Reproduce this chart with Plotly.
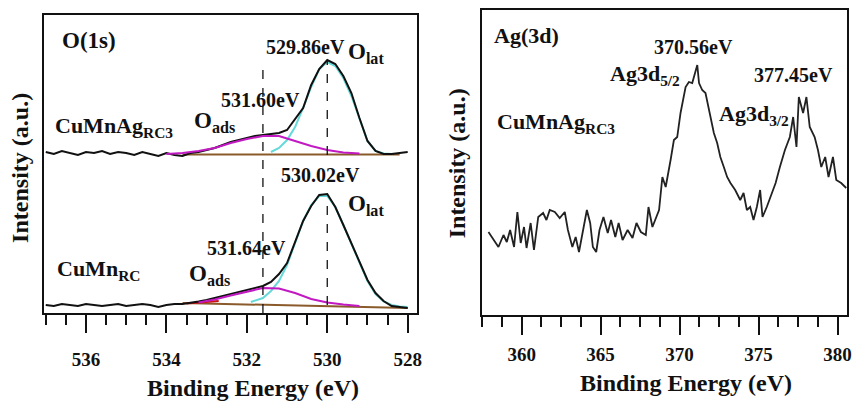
import plotly.graph_objects as go

# ---------------- Left panel: O(1s) ----------------
o_energy = [537.0, 536.8, 536.6, 536.4, 536.2, 536.0, 535.8, 535.6, 535.4, 535.2,
            535.0, 534.8, 534.6, 534.4, 534.2, 534.0, 533.8, 533.6, 533.4, 533.2,
            533.0, 532.8, 532.6, 532.4, 532.2, 532.0, 531.8, 531.6, 531.4, 531.2,
            531.0, 530.8, 530.6, 530.4, 530.2, 530.0, 529.8, 529.6, 529.4, 529.2,
            529.0, 528.8, 528.6, 528.4, 528.2, 528.0]
o_cumnag = [161, 159, 162, 160, 158, 161, 160, 162, 159, 161,
            160, 158, 161, 159, 157, 160, 158, 157, 160, 161,
            163, 165, 168, 171, 173, 175, 177, 178, 179, 180,
            183, 194, 205, 228, 244, 253, 249, 237, 220, 195,
            172, 162, 159, 159, 160, 161]
o_cumn = [8, 7, 9, 8, 7, 9, 8, 7, 8, 9,
          7, 8, 9, 8, 6, 8, 9, 9, 10, 11.5,
          13, 15, 17, 19, 21, 23, 25, 27, 31, 39,
          50, 72, 92, 107, 118, 119, 106, 88, 70, 51,
          33, 20, 12, 7, 6, 5]

# fitted components, CuMnAg_RC3
ads1_e = [534.0, 533.6, 533.2, 532.8, 532.4, 532.0, 531.6, 531.2, 530.8, 530.4, 530.0, 529.6, 529.2]
ads1_y = [159, 160, 162, 165, 170, 174, 177, 177, 172, 167, 163, 160.5, 159.5]
lat1_e = [531.4, 531.2, 531.0, 530.8, 530.6, 530.4, 530.2, 530.0, 529.8, 529.6, 529.4, 529.2,
          529.0, 528.8, 528.6, 528.4]
lat1_y = [161, 165, 173, 186, 205, 226, 244, 251, 247, 235, 217, 194, 172, 162, 159.5, 159]
base1_e = [533.6, 528.2]
base1_y = [158.5, 158.5]

# fitted components, CuMn_RC
ads2_e = [533.2, 532.8, 532.4, 532.0, 531.6, 531.2, 530.8, 530.4, 530.0, 529.6, 529.2]
ads2_y = [10.5, 13.5, 17.5, 21.5, 25, 24.5, 20, 14, 10.5, 8.5, 7]
lat2_e = [531.9, 531.6, 531.4, 531.2, 531.0, 530.8, 530.6, 530.4, 530.2, 530.0, 529.8, 529.6,
          529.4, 529.2, 529.0, 528.8, 528.6, 528.4, 528.2, 528.0]
lat2_y = [11, 15, 22, 32, 48, 71, 92, 108, 117, 117, 106, 88, 69, 50, 32, 19, 11.5, 8, 6.5, 6]
base2_e = [533.6, 528.0]
base2_y = [10, 5]
red2_e = [533.5, 532.7]
red2_y = [9.5, 12]

# dashed peak markers
ads_mark = 531.6
lat_mark = 530.0
ads_mark_span = [0, 250]
lat1_mark_span = [158, 252]
lat2_mark_span = [8, 115]

o_ticks = [536, 534, 532, 530, 528]

# ---------------- Right panel: Ag(3d) ----------------
ag_energy = [357.90, 358.22, 358.53, 358.85, 359.06, 359.27, 359.52, 359.73, 359.94, 360.15,
             360.31, 360.57, 360.78, 361.05, 361.36, 361.57, 361.78, 362.10, 362.41, 362.73,
             362.93, 363.21, 363.42, 363.63, 363.88, 364.13, 364.34, 364.51, 364.72, 364.93,
             365.18, 365.45, 365.66, 365.93, 366.14, 366.39, 366.71, 367.02, 367.27, 367.55,
             367.86, 368.03, 368.28, 368.53, 368.70, 368.91, 369.12, 369.43, 369.64, 369.85,
             370.06, 370.38, 370.59, 370.80, 370.97, 371.12, 371.23, 371.43, 371.64, 371.86,
             372.17, 372.38, 372.58, 372.80, 373.01, 373.22, 373.52, 373.84, 374.05, 374.26,
             374.47, 374.68, 374.89, 375.10, 375.25, 375.52, 375.83, 376.08, 376.35, 376.67,
             376.98, 377.19, 377.40, 377.55, 377.82, 378.03, 378.24, 378.55, 378.76, 378.97,
             379.22, 379.43, 379.71, 379.92, 380.23, 380.55]
ag_counts = [83, 75, 68, 80, 73, 85, 68, 103, 72, 88,
             67, 92, 65, 98, 102, 95, 105, 103, 97, 103,
             85, 68, 78, 63, 85, 105, 92, 68, 63, 85,
             98, 82, 95, 78, 92, 75, 85, 77, 92, 83,
             80, 108, 88, 98, 105, 138, 128, 155, 175, 178,
             202, 228, 233, 232, 242, 250, 232, 225, 222, 205,
             182, 172, 158, 148, 138, 132, 125, 115, 122, 105,
             108, 95, 108, 125, 98, 108, 122, 132, 148, 165,
             178, 198, 168, 218, 202, 218, 188, 178, 165, 148,
             158, 138, 158, 135, 132, 127]
ag_ticks = [360, 365, 370, 375, 380]

FONT = "Liberation Serif, Times New Roman, serif"
BLACK = "#111111"
CYAN = "#66d9d9"
MAGENTA = "#c21ac2"
BROWN = "#8b5a2b"

fig = go.Figure()

def line(x, y, color, width=2, dash=None, xa="x", ya="y"):
    fig.add_trace(go.Scatter(x=x, y=y, mode="lines", xaxis=xa, yaxis=ya,
                             line=dict(color=color, width=width, dash=dash),
                             hoverinfo="skip", showlegend=False))

# left panel traces
line(base1_e, base1_y, BROWN, 2)
line(base2_e, base2_y, BROWN, 2)
line(red2_e, red2_y, "#cc1111", 2)
line(lat1_e, lat1_y, CYAN, 2)
line(lat2_e, lat2_y, CYAN, 2)
line(o_energy, o_cumnag, BLACK, 2)
line(o_energy, o_cumn, BLACK, 2)
line(ads1_e, ads1_y, MAGENTA, 2)
line(ads2_e, ads2_y, MAGENTA, 2)
line([ads_mark, ads_mark], ads_mark_span, BLACK, 1.3, "dash")
line([lat_mark, lat_mark], lat1_mark_span, BLACK, 1.3, "dash")
line([lat_mark, lat_mark], lat2_mark_span, BLACK, 1.3, "dash")

# right panel trace
line(ag_energy, ag_counts, "#222222", 1.8, xa="x2", ya="y2")

W, H = 854, 403
tickfont = dict(family=FONT, size=19, color=BLACK, weight="bold")

common_x = dict(showline=True, linewidth=2, linecolor=BLACK, mirror=True,
                ticks="outside", tickwidth=2, tickcolor=BLACK, showgrid=False,
                zeroline=False, tickfont=tickfont)
common_y = dict(showline=True, linewidth=2, linecolor=BLACK, mirror=True,
                ticks="", showticklabels=False, showgrid=False, zeroline=False)

fig.update_layout(
    width=W, height=H,
    margin=dict(l=0, r=0, t=0, b=0),
    paper_bgcolor="white", plot_bgcolor="white",
    showlegend=False,
    xaxis=dict(domain=[44 / W, 419 / W], range=[537.05, 527.78],
               tickmode="array", tickvals=o_ticks, ticklen=18,
               ticklabelstandoff=10,
               minor=dict(dtick=0.5, tick0=528, ticks="outside", ticklen=10,
                          tickwidth=2, tickcolor=BLACK, showgrid=False),
               anchor="y", **common_x),
    yaxis=dict(domain=[90 / H, 388 / H], range=[0, 298], anchor="x", **common_y),
    xaxis2=dict(domain=[485 / W, 852 / W], range=[357.5, 380.6],
                tickmode="array", tickvals=ag_ticks, ticklen=18,
                ticklabelstandoff=3,
                minor=dict(dtick=1.25, tick0=360, ticks="outside", ticklen=10,
                           tickwidth=2, tickcolor=BLACK, showgrid=False),
                anchor="y2", **common_x),
    yaxis2=dict(domain=[88 / H, 393 / H], range=[0, 305], anchor="x2", **common_y),
)

def txt(text, x, y, size, xa="x", ya="y", xanchor="center", angle=0):
    fig.add_annotation(text=text, x=x, y=y, xref=xa, yref=ya, showarrow=False,
                       xanchor=xanchor, yanchor="middle", textangle=angle,
                       font=dict(family=FONT, size=size, color=BLACK, weight="bold"))

# left panel labels
txt("O(1s)", 536.65, 273, 23, xanchor="left")
txt("529.86eV", 530.55, 266, 20)
txt("O<sub>lat</sub>", 529.53, 260, 23, xanchor="left")
txt("531.60eV", 531.66, 213, 20)
txt("O<sub>ads</sub>", 533.37, 191, 23, xanchor="left")
txt("CuMnAg<sub>RC3</sub>", 536.83, 186, 22, xanchor="left")
txt("530.02eV", 530.18, 138, 20)
txt("O<sub>lat</sub>", 529.53, 108, 23, xanchor="left")
txt("531.64eV", 532.01, 65, 20)
txt("O<sub>ads</sub>", 533.49, 38, 23, xanchor="left")
txt("CuMn<sub>RC</sub>", 536.78, 43, 22, xanchor="left")

# right panel labels
txt("Ag(3d)", 358.13, 280, 22, "x2", "y2", xanchor="left")
txt("370.56eV", 370.87, 268, 20, "x2", "y2")
txt("Ag3d<sub>5/2</sub>", 367.8, 240, 22, "x2", "y2")
txt("377.45eV", 377.21, 240, 20, "x2", "y2")
txt("Ag3d<sub>3/2</sub>", 374.7, 200, 22, "x2", "y2")
txt("CuMnAg<sub>RC3</sub>", 358.32, 192, 22, "x2", "y2", xanchor="left")

# axis titles
txt("Binding Energy (eV)", 254 / W, (H - 388) / H, 24, "paper", "paper")
txt("Binding Energy (eV)", 690 / W, (H - 383) / H, 24, "paper", "paper")
txt("Intensity (a.u.)", 20 / W, (H - 168) / H, 24, "paper", "paper", angle=-90)
txt("Intensity (a.u.)", 460 / W, (H - 163) / H, 24, "paper", "paper", angle=-90)

fig.write_html("out.html")
